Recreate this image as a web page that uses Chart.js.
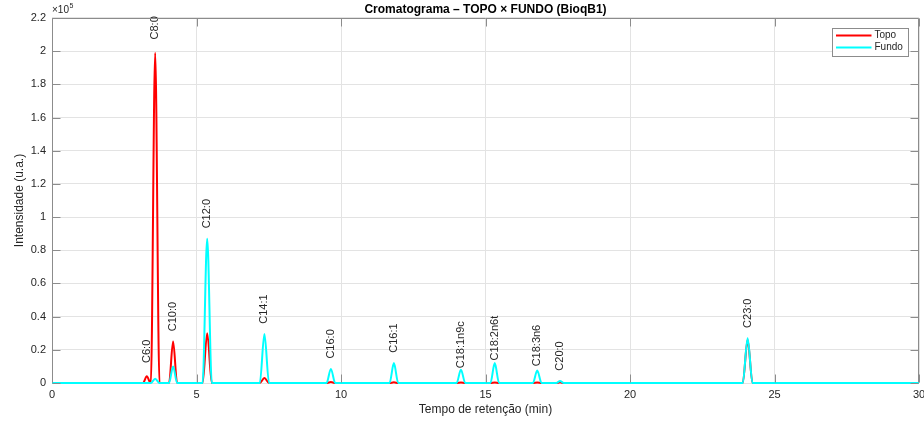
<!DOCTYPE html>
<html>
<head>
<meta charset="utf-8">
<script src="https://cdn.jsdelivr.net/npm/chart.js@4.4.1/dist/chart.umd.min.js"></script>
<style>
html,body{margin:0;padding:0;background:#fff;}
canvas{display:block;}
</style>
</head>
<body>
<canvas id="c" width="924" height="424"></canvas>
<script>
// ---- data ----
const peakNames   = ['C6:0','C8:0','C10:0','C12:0','C14:1','C16:0','C16:1','C18:1n9c','C18:2n6t','C18:3n6','C20:0','C23:0'];
const peakTimes   = [3.28, 3.57, 4.19, 5.37, 7.35, 9.65, 11.83, 14.15, 15.32, 16.79, 17.58, 24.07];
const peakWidths  = [0.13, 0.15, 0.14, 0.16, 0.16, 0.15, 0.15, 0.15, 0.15, 0.15, 0.13, 0.17];
const topoHeights = [4000, 199000, 25000, 30000, 3000, 600, 400, 300, 300, 300, 400, 26000];
const fundoHeights= [0, 2500, 10000, 87000, 29500, 8500, 12000, 8000, 12000, 7500, 1200, 27000];
const xTicks = [0, 5, 10, 15, 20, 25, 30];
const yTicks = [0, 0.2, 0.4, 0.6, 0.8, 1, 1.2, 1.4, 1.6, 1.8, 2, 2.2];
const seriesNames = ['Topo', 'Fundo'];
const seriesColors = ['#ff0000', '#00ffff'];
const titleText = 'Cromatograma – TOPO × FUNDO (BioqB1)';

function buildPoints(heights) {
  const pts = [{x: 0, y: 0}];
  for (let i = 0; i < peakTimes.length; i++) {
    pts.push({x: peakTimes[i] - peakWidths[i], y: 0});
    pts.push({x: peakTimes[i], y: heights[i]});
    pts.push({x: peakTimes[i] + peakWidths[i], y: 0});
  }
  pts.push({x: 30, y: 0});
  return pts;
}

const FONT = "'Liberation Sans', Arial, Helvetica, sans-serif";
const AXC = '#262626';
const TICK_LEN = 8;

const overlay = {
  id: 'overlay',
  afterDatasetsDraw(chart) {
    const {ctx, chartArea: a, scales: {x, y}} = chart;
    ctx.save();
    // peak labels
    ctx.fillStyle = AXC;
    ctx.font = '11px ' + FONT;
    ctx.textAlign = 'center';
    ctx.textBaseline = 'middle';
    for (let i = 0; i < peakNames.length; i++) {
      const px = x.getPixelForValue(peakTimes[i]);
      const py = y.getPixelForValue(Math.max(topoHeights[i], fundoHeights[i])) - 25;
      ctx.save();
      ctx.translate(px, py);
      ctx.rotate(-Math.PI / 2);
      ctx.fillText(peakNames[i], 0, 0);
      ctx.restore();
    }
    // box
    ctx.strokeStyle = '#8c8c8c';
    ctx.lineWidth = 1;
    const L = Math.round(a.left) + 0.5, R = Math.round(a.right) - 0.5;
    const T = Math.round(a.top) + 0.5, B = Math.round(a.bottom) - 0.5;
    ctx.beginPath();
    ctx.moveTo(L, B); ctx.lineTo(L, T); ctx.lineTo(R, T); ctx.lineTo(R, B);
    ctx.stroke();
    // inward ticks
    ctx.beginPath();
    xTicks.forEach(v => {
      const px = Math.round(x.getPixelForValue(v)) + 0.5;
      ctx.moveTo(px, B); ctx.lineTo(px, B - TICK_LEN);
      ctx.moveTo(px, T); ctx.lineTo(px, T + TICK_LEN);
    });
    yTicks.forEach(v => {
      const py = Math.round(y.getPixelForValue(v * 1e5)) + 0.5;
      ctx.moveTo(L, py); ctx.lineTo(L + TICK_LEN, py);
      ctx.moveTo(R, py); ctx.lineTo(R - TICK_LEN, py);
    });
    ctx.stroke();
    ctx.restore();
  },
  afterDraw(chart) {
    const {ctx, chartArea: a} = chart;
    ctx.save();
    // title
    ctx.fillStyle = '#000';
    ctx.font = 'bold 12px ' + FONT;
    ctx.textAlign = 'center';
    ctx.textBaseline = 'middle';
    ctx.fillText(titleText, (a.left + a.right) / 2, 10);
    // exponent
    ctx.fillStyle = AXC;
    ctx.textAlign = 'left';
    ctx.textBaseline = 'alphabetic';
    ctx.font = '10px ' + FONT;
    ctx.fillText('×10', a.left, 13);
    const w = ctx.measureText('×10').width;
    ctx.font = '7px ' + FONT;
    ctx.fillText('5', a.left + w + 0.5, 8);
    // legend
    const lx = 832.5, ly = 28.5, lw = 76, lh = 28;
    ctx.fillStyle = '#fff';
    ctx.fillRect(lx, ly, lw, lh);
    ctx.strokeStyle = '#8c8c8c';
    ctx.lineWidth = 1;
    ctx.strokeRect(lx, ly, lw, lh);
    ctx.font = '10px ' + FONT;
    ctx.textBaseline = 'middle';
    chart.data.datasets.forEach((ds, i) => {
      const yy = ly + 7 + i * 12;
      ctx.strokeStyle = ds.borderColor;
      ctx.lineWidth = 2;
      ctx.beginPath();
      ctx.moveTo(lx + 3.5, yy); ctx.lineTo(lx + 39, yy);
      ctx.stroke();
      ctx.fillStyle = AXC;
      ctx.fillText(ds.label, lx + 42, yy);
    });
    ctx.restore();
  }
};

new Chart(document.getElementById('c'), {
  type: 'line',
  data: {
    datasets: [
      {label: seriesNames[0], data: buildPoints(topoHeights), borderColor: seriesColors[0], order: 2, clip: 3},
      {label: seriesNames[1], data: buildPoints(fundoHeights), borderColor: seriesColors[1], order: 1, clip: 3}
    ]
  },
  options: {
    responsive: false,
    animation: false,
    devicePixelRatio: 1,
    elements: {
      line: {borderWidth: 2, cubicInterpolationMode: 'monotone', fill: false},
      point: {radius: 0, hoverRadius: 0}
    },
    layout: {padding: {left: 0, top: 18, right: 5, bottom: 0}},
    plugins: {legend: {display: false}, title: {display: false}, tooltip: {enabled: false}},
    scales: {
      x: {
        type: 'linear', min: 0, max: 30,
        afterBuildTicks: s => { s.ticks = xTicks.map(v => ({value: v})); },
        afterFit: s => { s.height = 41; s.paddingLeft = 0; s.paddingRight = 0; },
        grid: {color: '#e3e3e3', drawTicks: false},
        border: {display: false},
        ticks: {color: AXC, font: {family: FONT, size: 11}, padding: 5, maxRotation: 0, autoSkip: false},
        title: {display: true, text: 'Tempo de retenção (min)', color: AXC, font: {family: FONT, size: 12}, padding: {top: 0, bottom: 7}}
      },
      y: {
        type: 'linear', min: 0, max: 220000,
        afterBuildTicks: s => { s.ticks = yTicks.map(v => ({value: v * 1e5})); },
        afterFit: s => { s.width = 52; s.paddingTop = 0; s.paddingBottom = 0; },
        grid: {color: '#e3e3e3', drawTicks: false},
        border: {display: false},
        ticks: {color: AXC, font: {family: FONT, size: 11}, padding: 6, autoSkip: false,
          callback: v => String(Number((v / 1e5).toFixed(1)))},
        title: {display: true, text: 'Intensidade (u.a.)', color: AXC, font: {family: FONT, size: 12}, padding: {top: 12, bottom: 0}}
      }
    }
  },
  plugins: [overlay]
});
</script>
</body>
</html>
